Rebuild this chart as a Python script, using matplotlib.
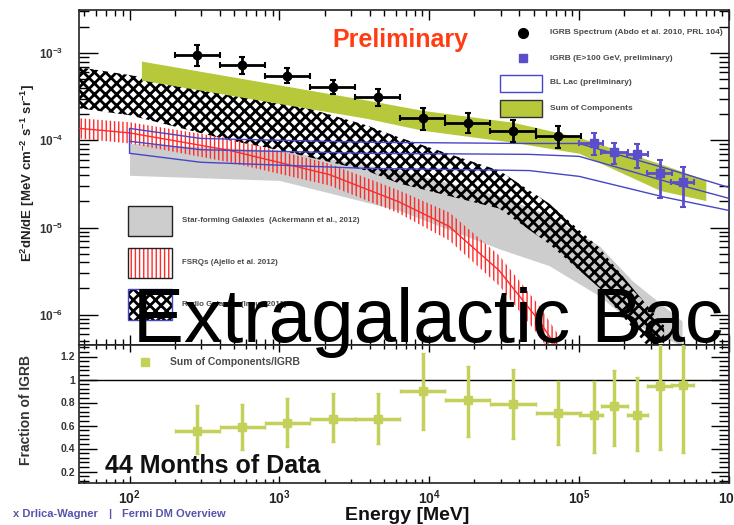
import numpy as np
import matplotlib.pyplot as plt
from matplotlib.patches import Rectangle
from matplotlib.lines import Line2D
from matplotlib.ticker import LogLocator, NullFormatter, MultipleLocator, FixedLocator

plt.rcParams['font.family'] = ['Liberation Sans', 'DejaVu Sans']
plt.rcParams['mathtext.fontset'] = 'custom'
plt.rcParams['mathtext.rm'] = 'Liberation Sans:bold'
plt.rcParams['mathtext.bf'] = 'Liberation Sans:bold'
plt.rcParams['mathtext.it'] = 'Liberation Sans:bold'

# IGRB spectrum (Abdo et al. 2010), energy in MeV, E^2 dN/dE
igrb_e = [283, 566, 1131, 2263, 4525, 9051, 18102, 36204, 72408]
igrb_lo = [200, 400, 800, 1600, 3200, 6400, 12800, 25600, 51200]
igrb_hi = [400, 800, 1600, 3200, 6400, 12800, 25600, 51200, 102400]
igrb_f = [9.5e-4, 7.3e-4, 5.4e-4, 4.1e-4, 3.1e-4, 1.79e-4, 1.57e-4, 1.27e-4, 1.11e-4]
igrb_fup = [1.24e-3, 9.0e-4, 6.7e-4, 4.9e-4, 3.86e-4, 2.33e-4, 2.04e-4, 1.70e-4, 1.45e-4]
igrb_fdn = [7.1e-4, 5.7e-4, 4.5e-4, 3.4e-4, 2.46e-4, 1.30e-4, 1.20e-4, 9.5e-5, 8.1e-5]

# IGRB above 100 GeV (preliminary)
hi_e = [126000, 171000, 244000, 347000, 494000]
hi_lo = [100000, 140000, 210000, 284000, 410000]
hi_hi = [144000, 212000, 288000, 417000, 584000]
hi_f = [9.2e-5, 7.3e-5, 6.9e-5, 4.2e-5, 3.3e-5]
hi_fup = [1.2e-4, 9.2e-5, 9.0e-5, 6.0e-5, 4.9e-5]
hi_fdn = [6.7e-5, 5.4e-5, 4.8e-5, 2.2e-5, 1.7e-5]

# star-forming galaxies band
sfg_e = [100, 1000, 6300, 29300, 63000, 136000, 226000, 486000]
sfg_top = [9.2e-5, 7.7e-5, 4.5e-5, 2.33e-5, 1.37e-5, 6.2e-6, 2.46e-6, 8.5e-7]
sfg_bot = [3.97e-5, 3.47e-5, 1.57e-5, 5.7e-6, 3.66e-6, 1.65e-6, 8.1e-7, 4.4e-7]

# radio galaxies band
rg_e = [46, 100, 464, 1000, 3800, 6300, 29300, 63000, 136000, 226000, 369000]
rg_top = [6.9e-4, 5.6e-4, 3.56e-4, 2.9e-4, 1.49e-4, 1.08e-4, 4.5e-5, 1.89e-5, 5.9e-6, 2.04e-6, 7.5e-7]
rg_bot = [2.33e-4, 1.94e-4, 1.0e-4, 7.7e-5, 4.5e-5, 3.2e-5, 1.65e-5, 6.5e-6, 2.04e-6, 7.1e-7, 2.6e-7]

# FSRQ band
fsrq_e = [46, 100, 464, 2150, 6300, 13600, 29300, 54100, 73500]
fsrq_top = [1.79e-4, 1.61e-4, 1.05e-4, 5.4e-5, 2.66e-5, 1.49e-5, 4.77e-6, 1.27e-6, 5.7e-7]
fsrq_bot = [1.05e-4, 9.2e-5, 5.6e-5, 3.04e-5, 1.45e-5, 7.1e-6, 2.15e-6, 5.7e-7, 2.6e-7]

# BL Lac band (preliminary)
bll_e = [100, 300, 3800, 46400, 100000, 380000, 1000000]
bll_top = [1.37e-4, 1.05e-4, 9.5e-5, 9.2e-5, 9.2e-5, 4.77e-5, 2.88e-5]
bll_mid = [9.75e-5, 7.8e-5, 7.1e-5, 6.9e-5, 6.55e-5, 3.38e-5, 2.16e-5]
bll_bot = [7.1e-5, 5.6e-5, 4.77e-5, 4.5e-5, 3.86e-5, 2.21e-5, 1.57e-5]

# sum of components band
sum_e = [120, 3800, 9100, 36300, 100000, 347000, 700000]
sum_top = [8.1e-4, 2.9e-4, 2.2e-4, 1.61e-4, 1.08e-4, 5.4e-5, 3.5e-5]
sum_bot = [4.9e-4, 1.79e-4, 1.3e-4, 9.5e-5, 7.1e-5, 2.66e-5, 2.04e-5]

# sum of components / IGRB
ratio_e = igrb_e + hi_e
ratio_lo = igrb_lo + hi_lo
ratio_hi = igrb_hi + hi_hi
ratio = [0.55, 0.59, 0.62, 0.66, 0.655, 0.90, 0.82, 0.785, 0.71, 0.69, 0.77, 0.69, 0.94, 0.95]
ratio_up = [0.78, 0.79, 0.84, 0.88, 0.88, 1.23, 1.12, 1.09, 0.99, 0.99, 1.08, 1.02, 1.4, 1.4]
ratio_dn = [0.35, 0.39, 0.41, 0.46, 0.44, 0.56, 0.50, 0.48, 0.43, 0.36, 0.42, 0.38, 0.39, 0.36]

W, H = 734, 525
def fx(x):
    return x / W
def fy(y):
    return 1 - y / H

red = '#ff2a2a'
blue = '#4646c8'
green = '#b7c93a'
lightgreen = '#c3d05a'
purple = '#5a4ecb'
txtgray = '#4a4a4a'

fig = plt.figure(figsize=(7.34, 5.25), dpi=100)
ax = fig.add_axes([fx(79), fy(345), 650 / W, 335 / H])
ax2 = fig.add_axes([fx(79), fy(483), 650 / W, 138 / H])

# ---- upper panel ----
ax.fill_between(sfg_e, sfg_bot, sfg_top, color='#cdcdcd', lw=0, zorder=1)
plt.rcParams['hatch.linewidth'] = 2.0
ax.fill_between(rg_e, rg_bot, rg_top, facecolor='none', edgecolor='black', hatch='xxx', lw=0, zorder=2)
plt.rcParams['hatch.linewidth'] = 1.0
ax.fill_between(fsrq_e, fsrq_bot, fsrq_top, facecolor='none', edgecolor=red, hatch='||||', lw=0, zorder=3)
ax.plot(fsrq_e, np.sqrt(np.array(fsrq_top) * np.array(fsrq_bot)), color=red, lw=1, zorder=3)
ax.fill_between(sum_e, sum_bot, sum_top, color=green, lw=0, zorder=4)
ax.fill_between(bll_e, bll_bot, bll_top, facecolor='none', edgecolor=blue, lw=1, zorder=5)
ax.plot(bll_e, bll_mid, color=blue, lw=1, zorder=5)

ie = np.array(igrb_e)
ax.errorbar(igrb_e, igrb_f,
            xerr=[ie - np.array(igrb_lo), np.array(igrb_hi) - ie],
            yerr=[np.array(igrb_f) - np.array(igrb_fdn), np.array(igrb_fup) - np.array(igrb_f)],
            fmt='o', color='black', ms=6, lw=2, capsize=2, capthick=1.5, zorder=7)
he = np.array(hi_e)
ax.errorbar(hi_e, hi_f,
            xerr=[he - np.array(hi_lo), np.array(hi_hi) - he],
            yerr=[np.array(hi_f) - np.array(hi_fdn), np.array(hi_fup) - np.array(hi_f)],
            fmt='s', color=purple, ms=6, lw=2, capsize=2, capthick=1.5, zorder=7)

ax.set_xscale('log')
ax.set_yscale('log')
ax.set_xlim(46, 1e6)
ax.set_ylim(4.5e-7, 3.12e-3)
ax.yaxis.set_major_locator(FixedLocator([1e-6, 1e-5, 1e-4, 1e-3]))
ax.set_yticklabels([r'$\mathbf{10^{-6}}$', r'$\mathbf{10^{-5}}$', r'$\mathbf{10^{-4}}$', r'$\mathbf{10^{-3}}$'])
ax.yaxis.set_minor_locator(LogLocator(base=10, subs=range(2, 10), numticks=20))
ax.yaxis.set_minor_formatter(NullFormatter())
ax.xaxis.set_major_locator(FixedLocator([1e2, 1e3, 1e4, 1e5, 1e6]))
ax.xaxis.set_minor_locator(LogLocator(base=10, subs=range(2, 10), numticks=20))
ax.xaxis.set_major_formatter(NullFormatter())
ax.xaxis.set_minor_formatter(NullFormatter())
ax.tick_params(axis='y', which='major', direction='in', length=14, width=1, left=True, right=True,
               labelsize=8.5, pad=11, labelcolor='#333333')
ax.tick_params(axis='y', which='minor', direction='in', length=7, width=1, left=True, right=True)
ax.tick_params(axis='x', which='major', direction='in', length=7, width=1, top=True, bottom=True)
ax.tick_params(axis='x', which='minor', direction='in', length=4, width=1, top=True, bottom=True)

# ---- lower panel ----
re_ = np.array(ratio_e)
ax2.axhline(1.0, color='black', lw=1, zorder=2)
ax2.errorbar(ratio_e, ratio,
             xerr=[re_ - np.array(ratio_lo), np.array(ratio_hi) - re_],
             yerr=[np.array(ratio) - np.array(ratio_dn), np.array(ratio_up) - np.array(ratio)],
             fmt='s', color=lightgreen, ms=6, lw=2.5, capsize=1.5, zorder=3)
ax2.set_xscale('log')
ax2.set_xlim(46, 1e6)
ax2.set_ylim(0.1, 1.3)
ax2.xaxis.set_major_locator(FixedLocator([1e2, 1e3, 1e4, 1e5, 1e6]))
ax2.set_xticklabels([r'$\mathbf{10^{2}}$', r'$\mathbf{10^{3}}$', r'$\mathbf{10^{4}}$', r'$\mathbf{10^{5}}$', r'$\mathbf{10^{6}}$'])
ax2.xaxis.set_minor_locator(LogLocator(base=10, subs=range(2, 10), numticks=20))
ax2.xaxis.set_minor_formatter(NullFormatter())
ax2.yaxis.set_major_locator(FixedLocator([0.2, 0.4, 0.6, 0.8, 1.0, 1.2]))
ax2.set_yticklabels(['0.2', '0.4', '0.6', '0.8', '1', '1.2'])
ax2.yaxis.set_minor_locator(MultipleLocator(0.04))
ax2.tick_params(axis='y', which='major', direction='in', length=13, width=1, left=True, right=True,
                labelsize=7.5, pad=3, labelcolor='#333333')
ax2.tick_params(axis='y', which='minor', direction='in', length=7, width=1, left=True, right=True)
ax2.tick_params(axis='x', which='major', direction='in', length=5, width=1, top=True, bottom=True,
                labelsize=10, pad=4, labelcolor='#222222')
ax2.tick_params(axis='x', which='minor', direction='in', length=3, width=1, top=True, bottom=True)
for label in ax2.get_yticklabels():
    label.set_fontweight('bold')

for a in (ax, ax2):
    for s in a.spines.values():
        s.set_linewidth(1.2)
        s.set_color('#222222')

# ---- axis titles ----
fig.text(fx(28), fy(173), r'$\mathbf{E^{2}dN/dE\ [MeV\ cm^{-2}\ s^{-1}\ sr^{-1}]}$',
         rotation=90, ha='center', va='center', fontsize=9.5, color='#222222')
fig.text(fx(26), fy(410), 'Fraction of IGRB', rotation=90, ha='center', va='center',
         fontsize=10, fontweight='bold', color='#333333')
fig.text(fx(407), fy(520), 'Energy [MeV]', ha='center', va='baseline',
         fontsize=14, fontweight='bold', color='#111111')

# ---- legend, top right ----
fig.add_artist(Line2D([fx(523)], [fy(33)], marker='o', color='black', ms=7, transform=fig.transFigure))
fig.add_artist(Line2D([fx(523)], [fy(58)], marker='s', color=purple, ms=6, transform=fig.transFigure))
fig.add_artist(Rectangle((fx(500), fy(92)), 42 / W, 17 / H, facecolor='white', edgecolor=blue,
                         lw=1, transform=fig.transFigure))
fig.add_artist(Rectangle((fx(500), fy(117)), 42 / W, 17 / H, facecolor=green, edgecolor='#333333',
                         lw=1, transform=fig.transFigure))
for ty, t in [(33, 'IGRB Spectrum (Abdo et al. 2010, PRL 104)'),
              (58, 'IGRB (E>100 GeV, preliminary)'),
              (83, 'BL Lac (preliminary)'),
              (108, 'Sum of Components')]:
    fig.text(fx(550), fy(ty), t, ha='left', va='center', fontsize=6, fontweight='bold', color=txtgray)

# ---- legend, lower left ----
fig.add_artist(Rectangle((fx(128), fy(236)), 44 / W, 30 / H, facecolor='#cdcdcd', edgecolor='#222222',
                         lw=1, transform=fig.transFigure))
plt.rcParams['hatch.linewidth'] = 1.0
fig.add_artist(Rectangle((fx(128), fy(278)), 44 / W, 30 / H, facecolor='white', edgecolor=red,
                         hatch='||||', lw=0, transform=fig.transFigure))
fig.add_artist(Rectangle((fx(128), fy(278)), 44 / W, 30 / H, facecolor='none', edgecolor='#222222',
                         lw=1, transform=fig.transFigure))
plt.rcParams['hatch.linewidth'] = 2.0
fig.add_artist(Rectangle((fx(128), fy(320)), 44 / W, 31 / H, facecolor='white', edgecolor='black',
                         hatch='xxx', lw=0, transform=fig.transFigure))
fig.add_artist(Rectangle((fx(128), fy(320)), 44 / W, 31 / H, facecolor='none', edgecolor=blue,
                         lw=1, transform=fig.transFigure))
for ty, t in [(221, 'Star-forming Galaxies  (Ackermann et al., 2012)'),
              (263, 'FSRQs (Ajello et al. 2012)'),
              (305, 'Radio Galaxies (Inoue 2011)')]:
    fig.text(fx(182), fy(ty), t, ha='left', va='center', fontsize=5.7, fontweight='bold', color=txtgray)

# lower panel legend
fig.add_artist(Line2D([fx(145)], [fy(362)], marker='s', color=lightgreen, ms=6, transform=fig.transFigure))
fig.text(fx(170), fy(362), 'Sum of Components/IGRB', ha='left', va='center', fontsize=7.5,
         fontweight='bold', color=txtgray)

# ---- slide annotations ----
fig.text(fx(400), fy(40), 'Preliminary', ha='center', va='center', fontsize=18,
         fontweight='bold', color='#ff3c12')
fig.text(fx(105), fy(473), '44 Months of Data', ha='left', va='baseline', fontsize=18,
         fontweight='bold', color='#111111')
fig.text(fx(133), fy(342), 'Extragalactic Bac', ha='left', va='baseline', fontsize=55,
         color='black', zorder=10)
fig.text(fx(13), fy(517), 'x Drlica-Wagner', ha='left', va='baseline', fontsize=8,
         fontweight='bold', color='#5555aa')
fig.text(fx(110), fy(517), '|', ha='center', va='baseline', fontsize=8,
         fontweight='bold', color='#5555aa')
fig.text(fx(122), fy(517), 'Fermi DM Overview', ha='left', va='baseline', fontsize=8,
         fontweight='bold', color='#5555aa')

fig.savefig('out.png', dpi=100)
